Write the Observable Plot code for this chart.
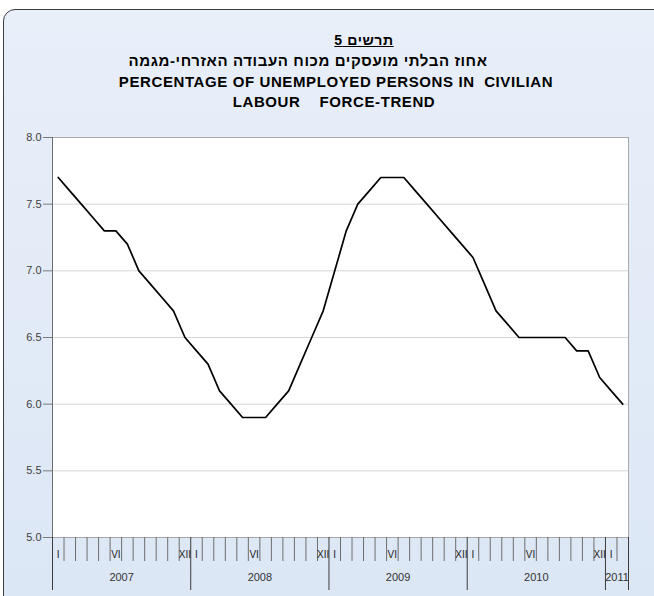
<!DOCTYPE html>
<html>
<head>
<meta charset="utf-8">
<script src="https://cdn.jsdelivr.net/npm/d3@7"></script>
<script src="https://cdn.jsdelivr.net/npm/@observablehq/plot@0.6"></script>
<style>
html, body { margin: 0; padding: 0; width: 654px; height: 596px; overflow: hidden; background: #ffffff; }
#wrap { position: relative; width: 654px; height: 596px; overflow: hidden; font-family: "Liberation Sans", Arial, sans-serif; }
#panel { position: absolute; left: 3px; top: 9px; width: 680px; height: 620px; border: 1.5px solid #3c3c3c; border-radius: 12px; background: linear-gradient(#e9eff9, #dbe6f5); }
.t { position: absolute; width: 600px; text-align: center; font-weight: bold; font-size: 15px; line-height: 15px; letter-spacing: 0.6px; white-space: nowrap; color: #000; }
#chart { position: absolute; left: 0; top: 0; }
</style>
</head>
<body>
<div id="wrap">
  <div id="panel"></div>
  <div class="t" dir="rtl" style="left:64px; top:33px; font-size:14px; line-height:14px; text-decoration: underline;">תרשים 5</div>
  <div class="t" dir="rtl" style="left:8px; top:53px;">אחוז הבלתי מועסקים מכוח העבודה האזרחי-מגמה</div>
  <div class="t" style="left:36px; top:74px;">PERCENTAGE OF UNEMPLOYED PERSONS IN&nbsp; CIVILIAN</div>
  <div class="t" style="left:34px; top:94px;">LABOUR&nbsp;&nbsp;&nbsp; FORCE-TREND</div>
  <div id="chart"></div>
</div>
<script>
// Data: monthly unemployment rate (trend), Jan 2007 – Feb 2011
const years = ["2007", "2008", "2009", "2010", "2011"];
const monthsInYear = [12, 12, 12, 12, 2];
const rate2007 = [7.7, 7.6, 7.5, 7.4, 7.3, 7.3, 7.2, 7.0, 6.9, 6.8, 6.7, 6.5];
const rate2008 = [6.4, 6.3, 6.1, 6.0, 5.9, 5.9, 5.9, 6.0, 6.1, 6.3, 6.5, 6.7];
const rate2009 = [7.0, 7.3, 7.5, 7.6, 7.7, 7.7, 7.7, 7.6, 7.5, 7.4, 7.3, 7.2];
const rate2010 = [7.1, 6.9, 6.7, 6.6, 6.5, 6.5, 6.5, 6.5, 6.5, 6.4, 6.4, 6.2];
const rate2011 = [6.1, 6.0];
const romanMonths = [1, 6, 12];
const romanLabels = ["I", "VI", "XII"];
const yTicks = [5.0, 5.5, 6.0, 6.5, 7.0, 7.5, 8.0];

const rates = [...rate2007, ...rate2008, ...rate2009, ...rate2010, ...rate2011];
const data = rates.map((v, k) => ({idx: k + 0.5, v}));
const nMonths = rates.length;

// year boundaries (cumulative month counts)
const yearBounds = [0];
monthsInYear.forEach(n => yearBounds.push(yearBounds[yearBounds.length - 1] + n));
const yearCenters = years.map((y, k) => (yearBounds[k] + yearBounds[k + 1]) / 2);
const yearLabelMap = new Map(yearCenters.map((c, k) => [c, years[k]]));
const monthBounds = d3.range(1, nMonths).filter(b => !yearBounds.includes(b));

// roman month labels
const romanMap = new Map();
years.forEach((y, k) => {
  romanMonths.forEach((m, j) => {
    if (m <= monthsInYear[k]) romanMap.set(yearBounds[k] + m - 0.5, romanLabels[j]);
  });
});
const romanPos = [...romanMap.keys()];

const chart = Plot.plot({
  width: 654,
  height: 596,
  marginTop: 137,
  marginBottom: 59,
  marginLeft: 52,
  marginRight: 26,
  style: {background: "transparent", fontFamily: "'Liberation Sans', Arial, sans-serif", overflow: "visible"},
  x: {domain: [0, nMonths], label: null},
  y: {domain: [5, 8], label: null},
  marks: [
    Plot.frame({fill: "white", stroke: "#a8a8a8"}),
    Plot.gridY(yTicks.slice(1, -1), {stroke: "#d6d6d6", strokeOpacity: 1}),
    Plot.axisY(yTicks, {anchor: "left", tickSize: 9, tickPadding: 2, tickFormat: d => d.toFixed(1), fontSize: 11, fill: "#404040", stroke: "#7a7a7a", label: null}),
    Plot.axisX(monthBounds, {anchor: "bottom", tickSize: 24, tickFormat: () => "", stroke: "#6e6e6e", label: null}),
    Plot.axisX(yearBounds, {anchor: "bottom", tickSize: 53, tickFormat: () => "", stroke: "#3c3c3c", label: null}),
    Plot.ruleX([0], {stroke: "#6e6e6e"}),
    Plot.axisX(romanPos, {anchor: "bottom", tickSize: 0, tickPadding: 13, tickFormat: d => romanMap.get(d), fontSize: 10, fill: "#222", label: null}),
    Plot.axisX(yearCenters, {anchor: "bottom", tickSize: 0, tickPadding: 36, tickFormat: d => yearLabelMap.get(d), fontSize: 11, fill: "#333", label: null}),
    Plot.lineY(data, {x: "idx", y: "v", stroke: "black", strokeWidth: 1.7})
  ]
});
document.getElementById("chart").appendChild(chart);
</script>
</body>
</html>
